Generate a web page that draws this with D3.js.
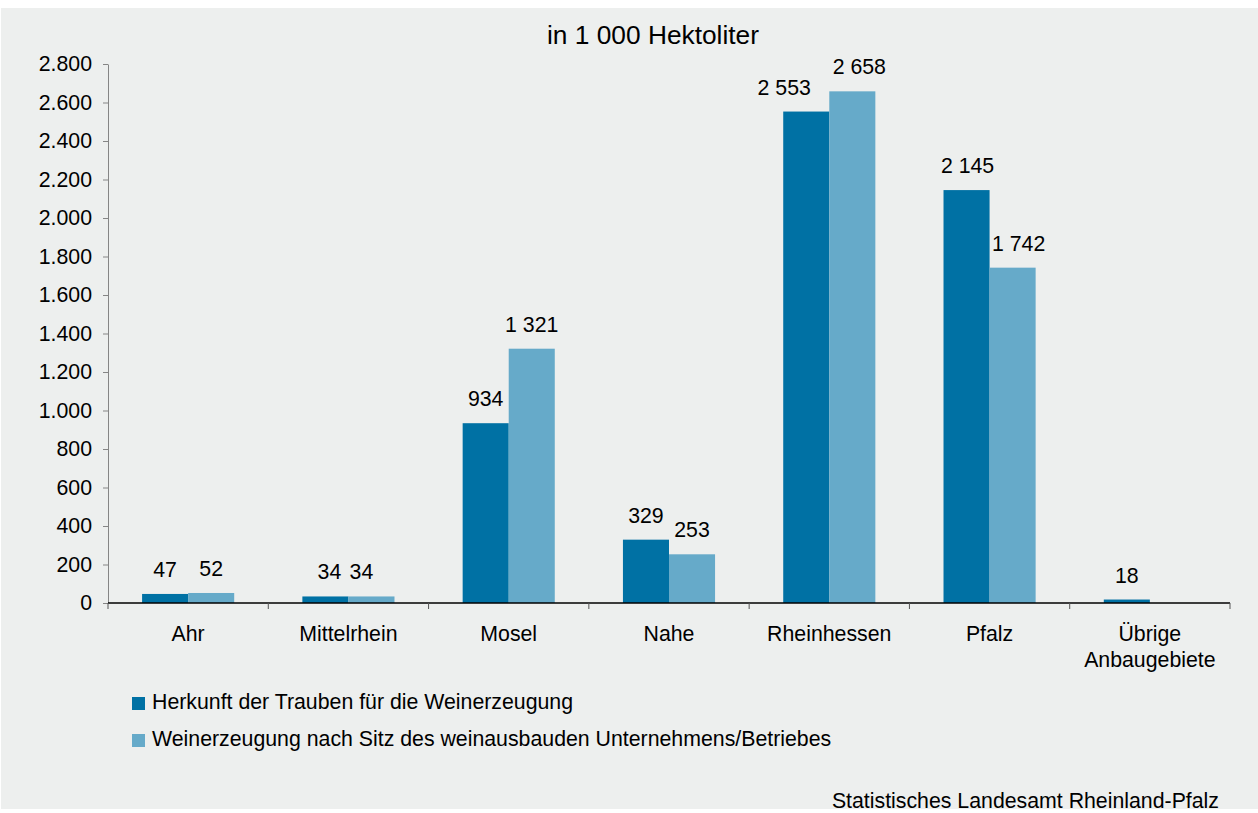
<!DOCTYPE html>
<html>
<head>
<meta charset="utf-8">
<script src="https://cdn.jsdelivr.net/npm/d3@7"></script>
<style>
  body { margin: 0; background: #fff; }
  svg text { font-family: "Liberation Sans", Arial, sans-serif; fill: #000; }
</style>
</head>
<body>
<svg id="chart" width="1258" height="813"></svg>
<script>
// Weinerzeugung in Rheinland-Pfalz
const categories = ["Ahr", "Mittelrhein", "Mosel", "Nahe", "Rheinhessen", "Pfalz", "Übrige\nAnbaugebiete"];
const seriesNames = [
    "Herkunft der Trauben für die Weinerzeugung",
    "Weinerzeugung nach Sitz des weinausbauden Unternehmens/Betriebes"
];
const herkunft = [47, 34, 934, 329, 2553, 2145, 18];
const sitz = [52, 34, 1321, 253, 2658, 1742, null];
const yTicks = [0, 200, 400, 600, 800, 1000, 1200, 1400, 1600, 1800, 2000, 2200, 2400, 2600, 2800];

const colors = ["#0071a4", "#66aac9"];
const fs = "21.3px";

const svg = d3.select("#chart");
const de = d3.formatLocale({decimal: ",", thousands: ".", grouping: [3]});
const deSpace = d3.formatLocale({decimal: ",", thousands: " ", grouping: [3]});

// panel background
svg.append("rect").attr("x", 1).attr("y", 8).attr("width", 1257).attr("height", 801).attr("fill", "#edefee");
svg.append("clipPath").attr("id", "panel").append("rect").attr("x", 1).attr("y", 8).attr("width", 1257).attr("height", 801);

const x = d3.scaleBand().domain(categories).range([108, 1230]);
const xs = d3.scaleBand().domain([0, 1]).range([0, x.bandwidth()]).paddingOuter(0.74);
const y = d3.scaleLinear().domain([0, 2800]).range([603, 64]);

// title
svg.append("text").attr("x", 653).attr("y", 44).attr("text-anchor", "middle")
    .style("font-size", "26.3px").text("in 1 000 Hektoliter");

// y axis
const yAxis = svg.append("g").attr("transform", "translate(108,0)")
    .call(d3.axisLeft(y).tickValues(yTicks).tickFormat(de.format(",")).tickSize(5).tickSizeOuter(0).tickPadding(11));
yAxis.selectAll("path, line").attr("stroke", "#858585");
yAxis.selectAll("text").style("font-size", fs).style("font-family", "Liberation Sans, Arial, sans-serif");

// bars
const rows = categories.map((c, i) => ({cat: c, vals: [herkunft[i], sitz[i]]}));
const groups = svg.append("g").selectAll("g").data(rows).join("g")
    .attr("transform", d => `translate(${x(d.cat)},0)`);

groups.selectAll("rect").data(d => d.vals.map((v, s) => ({v, s})).filter(e => e.v != null)).join("rect")
    .attr("x", e => xs(e.s))
    .attr("width", xs.bandwidth())
    .attr("y", e => y(e.v))
    .attr("height", e => y(0) - y(e.v))
    .attr("fill", e => colors[e.s]);

// small label nudges where Excel moved them apart
const nudge = {"Mittelrhein": [4, -10], "Rheinhessen": [-22, 7], "Pfalz": [1, 6]};
groups.selectAll("text.val").data(d => d.vals.map((v, s) => ({v, s, cat: d.cat})).filter(e => e.v != null)).join("text")
    .attr("class", "val")
    .attr("x", e => xs(e.s) + xs.bandwidth() / 2 + (nudge[e.cat] ? nudge[e.cat][e.s] : 0))
    .attr("y", e => y(e.v) - 17)
    .attr("text-anchor", "middle")
    .style("font-size", fs)
    .text(e => deSpace.format(",")(e.v));

// x axis
svg.append("line").attr("x1", 108).attr("x2", 1230).attr("y1", y(0)).attr("y2", y(0))
    .attr("stroke", "#000").attr("stroke-width", 1.3);
const bounds = categories.map(c => x(c)).concat([x.range()[1]]);
svg.append("g").selectAll("line").data(bounds).join("line")
    .attr("x1", d => d).attr("x2", d => d).attr("y1", y(0)).attr("y2", y(0) + 6)
    .attr("stroke", "#555");

svg.append("g").selectAll("text").data(categories).join("text")
    .attr("x", d => x(d) + x.bandwidth() / 2)
    .attr("y", 641)
    .attr("text-anchor", "middle")
    .style("font-size", fs)
    .each(function(d) {
        d.split("\n").forEach((line, i) => {
            d3.select(this).append("tspan").attr("x", x(d) + x.bandwidth() / 2).attr("dy", i ? 26 : 0).text(line);
        });
    });

// legend
const legend = svg.append("g").selectAll("g").data(seriesNames).join("g")
    .attr("transform", (d, i) => `translate(132,${697 + i * 37})`);
legend.append("rect").attr("width", 13).attr("height", 13).attr("fill", (d, i) => colors[i]);
legend.append("text").attr("x", 20).attr("y", 12).style("font-size", fs).text(d => d);

// source
svg.append("text").attr("x", 1219).attr("y", 808).attr("text-anchor", "end")
    .attr("clip-path", "url(#panel)")
    .style("font-size", fs).text("Statistisches Landesamt Rheinland-Pfalz");
</script>
</body>
</html>
